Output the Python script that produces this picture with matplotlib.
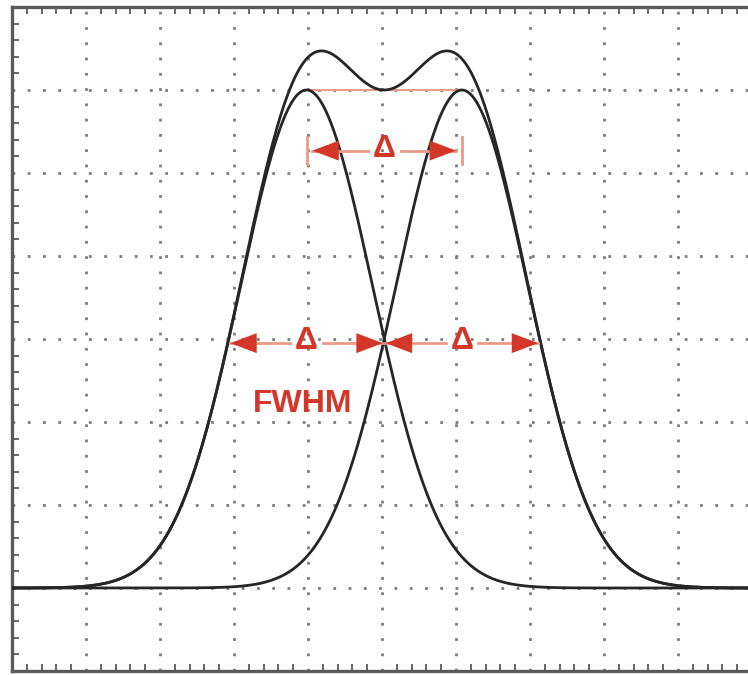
import numpy as np
import matplotlib
matplotlib.use("Agg")
import matplotlib.pyplot as plt
from matplotlib.ticker import MultipleLocator

# Two equal Gaussian peaks separated by exactly one FWHM (Rayleigh-like criterion)
peak_centers = [3.98, 6.08]      # horizontal divisions
peak_fwhm = 2.10                 # divisions
peak_height = 6.0                # vertical divisions above baseline
baseline = 1.0
x_range = [0.0, 10.0]
y_range = [0.0, 8.0]

RED = "#d4372a"
PALE = "#e99a85"
CURVE = "#262626"
FRAME = "#5a5a5a"
GRID = "#7c7c7c"
FONT = ["Liberation Sans", "DejaVu Sans"]

fig = plt.figure(figsize=(7.48, 6.75), dpi=100)
ax = fig.add_axes([12 / 748, 4 / 675, 740 / 748, 664 / 675])
ax.set_xlim(*x_range)
ax.set_ylim(*y_range)

# graticule
ax.xaxis.set_major_locator(MultipleLocator(1))
ax.yaxis.set_major_locator(MultipleLocator(1))
ax.xaxis.set_minor_locator(MultipleLocator(0.2))
ax.yaxis.set_minor_locator(MultipleLocator(0.2))
ax.grid(True, which="major", color=GRID, linestyle=(0, (1, 4.5)), linewidth=2.0)
ax.tick_params(which="major", length=0, labelbottom=False, labelleft=False)
ax.tick_params(which="minor", direction="in", length=5, width=1.3, color=FRAME,
               top=True, bottom=True, left=True, right=False)
for name, s in ax.spines.items():
    s.set_color(FRAME)
    s.set_linewidth(2.4)
ax.spines["right"].set_visible(False)

x = np.linspace(*x_range, 1200)
sig = peak_fwhm / (2 * np.sqrt(2 * np.log(2)))
peaks = [peak_height * np.exp(-0.5 * ((x - m) / sig) ** 2) for m in peak_centers]
for p in peaks:
    ax.plot(x, baseline + p, color=CURVE, lw=2.0, zorder=3)
ax.plot(x, baseline + peaks[0] + peaks[1], color=CURVE, lw=2.0, zorder=3)

top = baseline + peak_height
half = baseline + peak_height / 2
m1, m2 = peak_centers

# line joining the two maxima
ax.plot([m1, m2], [top, top], color=PALE, lw=1.4, zorder=2)


def delta_arrow(x0, x1, y, inset=0.08, gap=0.22):
    xc = (x0 + x1) / 2
    a0, a1 = x0 + inset, x1 - inset
    ax.plot([a0, xc - gap], [y, y], color=PALE, lw=2.0, zorder=4)
    ax.plot([xc + gap, a1], [y, y], color=PALE, lw=2.0, zorder=4)
    hl = 0.28
    for tip, base in [(a0, a0 + hl), (a1, a1 - hl)]:
        ax.annotate("", xy=(tip, y), xytext=(base, y),
                    arrowprops=dict(arrowstyle="-|>,head_length=0.95,head_width=0.36",
                                    color=RED, lw=0, shrinkA=0, shrinkB=0,
                                    mutation_scale=20), zorder=5)
    ax.text(xc, y + 0.02, "Δ", color=RED, fontsize=23, fontweight="bold",
            family=FONT, ha="center", va="center", zorder=6)


# separation between peaks
yb = 6.27
delta_arrow(m1, m2, yb)
for xm in (m1, m2):
    ax.plot([xm, xm], [yb - 0.16, yb + 0.16], color=PALE, lw=2.0, zorder=4)

# full width at half maximum of each peak
for m in peak_centers:
    delta_arrow(m - peak_fwhm / 2, m + peak_fwhm / 2, half - 0.05, inset=0.02)

ax.text(m1 - 0.05, 3.22, "FWHM", color=RED, fontsize=23, fontweight="bold",
        family=FONT, ha="center", va="center", zorder=6)

fig.savefig("out.png", dpi=100, facecolor="white")
